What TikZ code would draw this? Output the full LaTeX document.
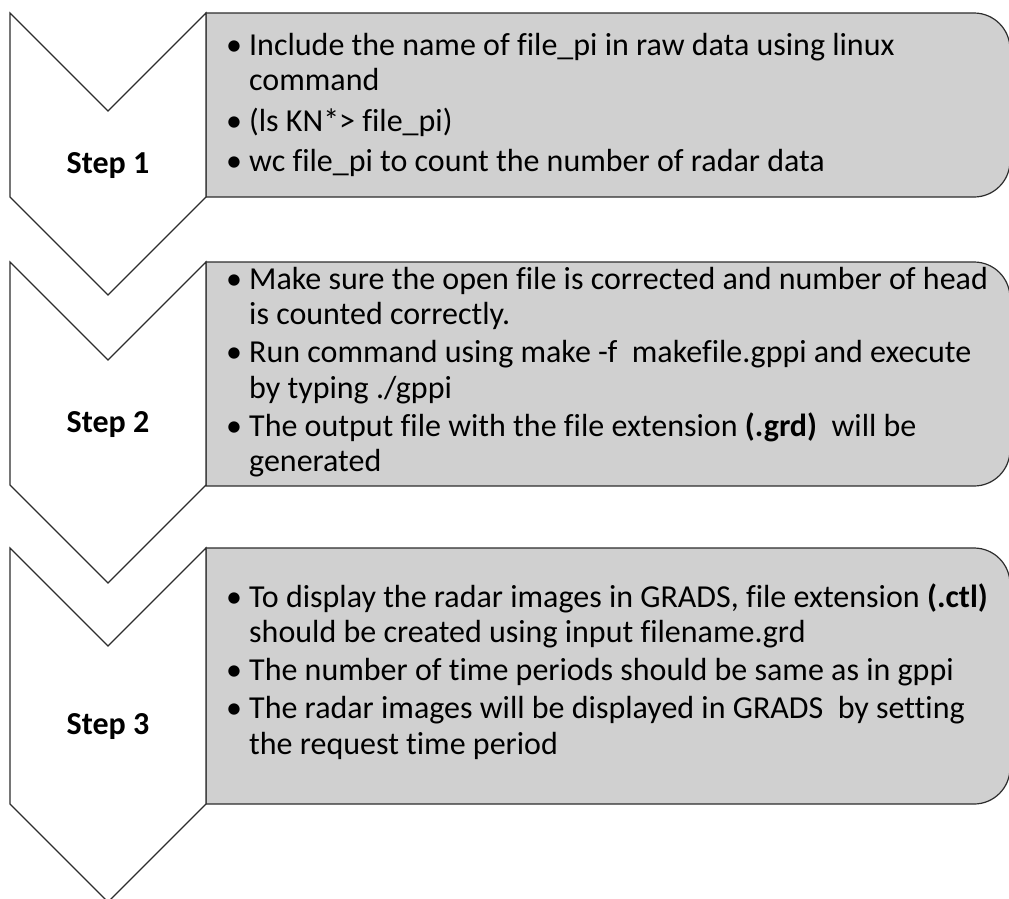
\documentclass[tikz,border=0pt]{standalone}
\usepackage{fontspec}
\setmainfont{Carlito}[Ligatures={NoCommon,NoContextual}]
\usepackage{array}
\definecolor{boxgray}{RGB}{208,208,208}
\definecolor{edgegray}{RGB}{45,45,45}
\tikzset{
  chev/.style={draw=edgegray, fill=white, line width=1.2pt},
  notebox/.style={draw=edgegray, fill=boxgray, line width=1.2pt},
  steplabel/.style={font=\bfseries\fontsize{32}{38}\selectfont, anchor=base, inner sep=0pt},
  notes/.style={font=\fontsize{32}{35.5}\selectfont, anchor=base west, inner sep=0pt}
}
\begin{document}
\begin{tikzpicture}[x=1pt, y=1pt]
  \useasboundingbox (0,0) rectangle (1009,-898);

  % grey boxes, rounded on the right
  \draw[notebox] (206,-197) -- (206,-13) -- (974,-13) arc[start angle=90, end angle=0, radius=36]
    -- (1010,-161) arc[start angle=0, end angle=-90, radius=36] -- cycle;
  \draw[notebox] (206,-486) -- (206,-262) -- (974,-262) arc[start angle=90, end angle=0, radius=36]
    -- (1010,-450) arc[start angle=0, end angle=-90, radius=36] -- cycle;
  \draw[notebox] (206,-804) -- (206,-548) -- (974,-548) arc[start angle=90, end angle=0, radius=36]
    -- (1010,-768) arc[start angle=0, end angle=-90, radius=36] -- cycle;

  % chevrons
  \draw[chev] (10,-13) -- (108,-111) -- (206,-13) -- (206,-197) -- (108,-295) -- (10,-197) -- cycle;
  \draw[chev] (10,-262) -- (108,-360) -- (206,-262) -- (206,-485) -- (108,-583) -- (10,-485) -- cycle;
  \draw[chev] (10,-548) -- (108,-646) -- (206,-548) -- (206,-804) -- (108,-902) -- (10,-804) -- cycle;

  \node[steplabel] (step1) at (108,-173) {Step 1};
  \node[steplabel] (step2) at (108,-432) {Step 2};
  \node[steplabel] (step3) at (108,-734) {Step 3};

  \node[notes] (note1) at (226,-55) {\begin{tabular}[t]{@{}p{23pt}@{}l@{}}
    \textbullet & Include the name of file\_pi in raw data using linux\\
                & command\\[5.5pt]
    \textbullet & (ls KN*> file\_pi)\\[4.5pt]
    \textbullet & wc file\_pi to count the number of radar data
  \end{tabular}};
  \node[notes] (note2) at (226,-289) {\begin{tabular}[t]{@{}p{23pt}@{}l@{}}
    \textbullet & Make sure the open file is corrected and number of head\\
                & is counted correctly.\\[2.5pt]
    \textbullet & Run command using make -f\ \ makefile.gppi and execute\\
                & by typing ./gppi\\[2.5pt]
    \textbullet & The output file with the file extension \textbf{(.grd)}\ \ will be\\
                & generated
  \end{tabular}};
  \node[notes] (note3) at (226,-607) {\begin{tabular}[t]{@{}p{23pt}@{}l@{}}
    \textbullet & To display the radar images in GRADS, file extension \textbf{(.ctl)}\\
                & should be created using input filename.grd\\[2.5pt]
    \textbullet & The number of time periods should be same as in gppi\\[2.5pt]
    \textbullet & The radar images will be displayed in GRADS\ \ by setting\\
                & the request time period
  \end{tabular}};
\end{tikzpicture}
\end{document}
